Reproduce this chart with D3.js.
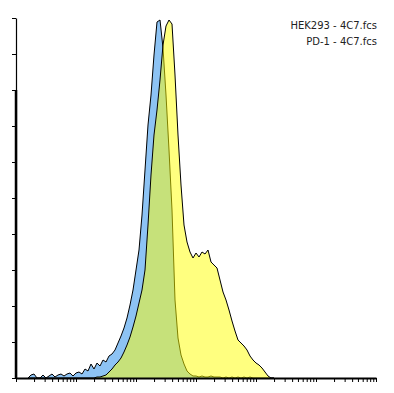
<!DOCTYPE html>
<html>
<head>
<meta charset="utf-8">
<script src="https://cdn.jsdelivr.net/npm/d3@7"></script>
<style>
  body { margin: 0; background: #fff; }
  svg { display: block; }
</style>
</head>
<body>
<div id="hist"></div>
<script>
// log10 of channel value, bin centres
var logBins = [0.20,0.25,0.30,0.35,0.40,0.45,0.50,0.55,0.60,0.65,
               0.70,0.75,0.80,0.85,0.90,0.95,1.00,1.05,1.10,1.15,
               1.20,1.25,1.30,1.35,1.40,1.45,1.50,1.55,1.60,1.65,
               1.70,1.75,1.80,1.85,1.90,1.95,2.00,2.05,2.10,2.15,
               2.20,2.25,2.30,2.35,2.40,2.45,2.50,2.55,2.60,2.65,
               2.70,2.75,2.80,2.85,2.90,2.95,3.00,3.05,3.10,3.15,
               3.20,3.25,3.30,3.35,3.40,3.45,3.50,3.55,3.60,3.65,
               3.70,3.75,3.80,3.85,3.90,3.95,4.00,4.05,4.10,4.15,
               4.20,4.25,4.30];

// HEK293 - 4C7.fcs
var hek293 = [0,3,4,0,0,3,0,2,4,1,
              3,4,2,4,5,2,5,6,4,9,
              7,14,9,15,12,18,16,22,24,28,
              35,42,50,60,73,88,108,128,163,208,
              253,283,323,356,358,330,283,228,168,78,
              40,23,14,7,4,2,2,1,2,1,
              1,2,1,1,1,0,1,0,1,0,
              1,0,1,0,1,0,0,0,0,0,
              0,0,0];

// PD-1 - 4C7.fcs
var pd1 = [0,0,0,0,0,0,0,0,0,0,
           0,0,0,0,0,0,0,0,0,0,
           0,0,0,1,1,2,3,6,9,13,
           16,20,26,33,41,51,62,75,88,108,
           153,203,243,268,298,333,352,358,354,303,
           243,193,153,136,126,120,125,121,126,124,
           128,116,113,110,98,86,78,68,57,47,
           38,35,32,28,22,18,15,13,10,6,
           2,0,0];

var legendLabels = ["HEK293 - 4C7.fcs", "PD-1 - 4C7.fcs"];

var width = 394, height = 393;
var margin = {top: 18, right: 18, bottom: 15, left: 16};

var svg = d3.select("#hist").append("svg")
    .attr("width", width)
    .attr("height", height);

var x = d3.scaleLog().domain([1, 1e6]).range([16, 376]);
var y = d3.scaleLinear().domain([0, 360]).range([378, 18]);

function series(vals){
	return logBins.map(function(b, i){ return {x: Math.pow(10, b), y: vals[i]}; });
}

var area = d3.area()
    .x(function(d){ return x(d.x); })
    .y0(y(0))
    .y1(function(d){ return y(d.y); });
var line = d3.line()
    .x(function(d){ return x(d.x); })
    .y(function(d){ return y(d.y); });

var hekData = series(hek293), pdData = series(pd1);

// HEK293 first, PD-1 on top with half opacity (gives the green overlap)
svg.append("path").datum(hekData)
    .attr("d", area).attr("fill", "#8dc3f4");
svg.append("path").datum(hekData)
    .attr("d", line).attr("fill", "none")
    .attr("stroke", "#000").attr("stroke-width", 1);

svg.append("path").datum(pdData)
    .attr("d", area).attr("fill", "#ffff00").attr("fill-opacity", 0.5);
svg.append("path").datum(pdData)
    .attr("d", line).attr("fill", "none")
    .attr("stroke", "#000").attr("stroke-width", 1);

// axes
var xAxis = d3.axisBottom(x)
    .tickFormat("")
    .tickSizeOuter(0)
    .tickSizeInner(4);
var gx = svg.append("g")
    .attr("transform", "translate(0," + y(0) + ")")
    .call(xAxis);
gx.select(".domain").attr("stroke-width", 2);
gx.selectAll(".tick line").attr("stroke-width", 1);

var yAxis = d3.axisLeft(y)
    .tickValues(d3.range(0, 361, 36))
    .tickFormat("")
    .tickSizeOuter(0)
    .tickSizeInner(4);
var gy = svg.append("g")
    .attr("transform", "translate(" + x(1) + ",0)")
    .call(yAxis);
gy.select(".domain").attr("stroke-width", 1.2);
// lower part of the axis is drawn heavier in the original
gy.append("line")
    .attr("x1", 0).attr("x2", 0)
    .attr("y1", y(288)).attr("y2", y(0))
    .attr("stroke", "#000").attr("stroke-width", 2.5);

// legend
svg.selectAll(".legend")
    .data(legendLabels)
    .enter().append("text")
    .attr("class", "legend")
    .attr("x", 377)
    .attr("y", function(d, i){ return 29 + i * 16; })
    .attr("text-anchor", "end")
    .attr("font-family", "DejaVu Sans, Verdana, sans-serif")
    .attr("font-size", "10px")
    .attr("fill", "#222")
    .text(function(d){ return d; });
</script>
</body>
</html>
